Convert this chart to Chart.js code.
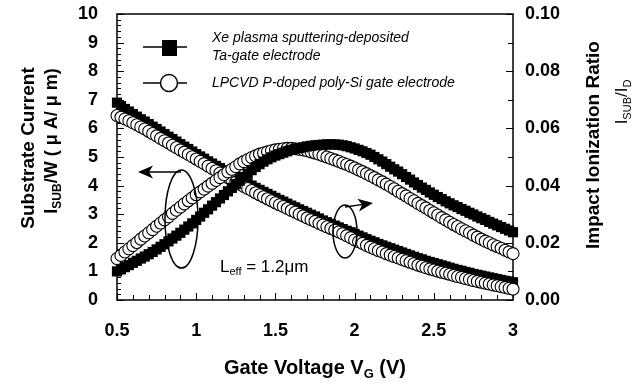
<!DOCTYPE html>
<html><head><meta charset="utf-8">
<script src="https://cdn.jsdelivr.net/npm/chart.js@4/dist/chart.umd.min.js"></script>
<style>html,body{margin:0;padding:0;background:#fff;overflow:hidden}</style>
</head><body>
<canvas id="c" width="632" height="386"></canvas>
<script>
// Gate voltage VG (V)
const gateVoltage = [
0.5,0.525,0.55,0.575,0.6,0.625,0.65,0.675,0.7,0.725,0.75,0.775,0.8,0.825,0.85,0.875,0.9,0.925,0.95,0.975,
1.0,1.025,1.05,1.075,1.1,1.125,1.15,1.175,1.2,1.225,1.25,1.275,1.3,1.325,1.35,1.375,1.4,1.425,1.45,1.475,
1.5,1.525,1.55,1.575,1.6,1.625,1.65,1.675,1.7,1.725,1.75,1.775,1.8,1.825,1.85,1.875,1.9,1.925,1.95,1.975,
2.0,2.025,2.05,2.075,2.1,2.125,2.15,2.175,2.2,2.225,2.25,2.275,2.3,2.325,2.35,2.375,2.4,2.425,2.45,2.475,
2.5,2.525,2.55,2.575,2.6,2.625,2.65,2.675,2.7,2.725,2.75,2.775,2.8,2.825,2.85,2.875,2.9,2.925,2.95,2.975,
3.0];
// Substrate current ISUB/W (uA/um), Ta-gate (filled squares)
const taSubstrateCurrent = [
1.00,1.07,1.15,1.22,1.30,1.37,1.45,1.52,1.60,1.68,1.77,1.86,1.95,2.05,2.15,2.25,2.35,2.46,2.57,2.68,
2.80,2.92,3.05,3.17,3.30,3.42,3.55,3.67,3.80,3.92,4.05,4.17,4.30,4.42,4.54,4.65,4.75,4.84,4.92,4.99,
5.05,5.10,5.15,5.20,5.25,5.28,5.31,5.34,5.37,5.39,5.41,5.42,5.43,5.44,5.44,5.44,5.43,5.41,5.38,5.34,
5.30,5.25,5.20,5.14,5.08,5.00,4.92,4.84,4.75,4.66,4.57,4.49,4.40,4.30,4.21,4.11,4.02,3.93,3.85,3.76,
3.68,3.60,3.53,3.45,3.38,3.31,3.25,3.18,3.12,3.05,2.99,2.92,2.86,2.80,2.73,2.67,2.61,2.55,2.49,2.43,
2.37];
// Substrate current, poly-Si gate (open circles)
const polySubstrateCurrent = [
1.45,1.56,1.68,1.79,1.90,2.01,2.13,2.24,2.35,2.46,2.58,2.69,2.80,2.91,3.03,3.14,3.25,3.36,3.47,3.57,
3.68,3.78,3.88,3.98,4.08,4.18,4.28,4.38,4.48,4.57,4.66,4.76,4.84,4.91,4.98,5.04,5.10,5.14,5.18,5.22,
5.25,5.27,5.29,5.30,5.30,5.29,5.27,5.25,5.22,5.18,5.14,5.10,5.05,5.00,4.95,4.90,4.85,4.79,4.74,4.68,
4.62,4.55,4.49,4.42,4.35,4.28,4.20,4.13,4.05,3.97,3.89,3.80,3.72,3.64,3.55,3.47,3.38,3.30,3.22,3.13,
3.05,2.97,2.88,2.80,2.72,2.64,2.57,2.49,2.42,2.35,2.27,2.20,2.13,2.06,2.00,1.93,1.87,1.81,1.74,1.68,
1.62];
// Impact ionization ratio ISUB/ID, Ta-gate
const taIonizationRatio = [
0.0690,0.0678,0.0668,0.0659,0.0650,0.0641,0.0632,0.0624,0.0615,0.0606,0.0598,0.0589,0.0580,0.0571,0.0563,0.0554,0.0545,0.0536,0.0528,0.0519,
0.0510,0.0502,0.0494,0.0485,0.0477,0.0469,0.0461,0.0453,0.0445,0.0437,0.0430,0.0422,0.0415,0.0407,0.0400,0.0392,0.0385,0.0378,0.0371,0.0364,
0.0357,0.0350,0.0344,0.0337,0.0330,0.0324,0.0317,0.0311,0.0305,0.0298,0.0292,0.0285,0.0278,0.0272,0.0266,0.0260,0.0254,0.0248,0.0242,0.0237,
0.0231,0.0225,0.0219,0.0213,0.0207,0.0202,0.0196,0.0191,0.0186,0.0181,0.0176,0.0171,0.0166,0.0161,0.0156,0.0151,0.0146,0.0142,0.0137,0.0133,
0.0129,0.0125,0.0121,0.0117,0.0113,0.0109,0.0105,0.0102,0.0098,0.0095,0.0091,0.0088,0.0085,0.0082,0.0079,0.0076,0.0073,0.0070,0.0067,0.0065,
0.0062];
// Impact ionization ratio, poly-Si gate
const polyIonizationRatio = [
0.0645,0.0639,0.0633,0.0627,0.0620,0.0613,0.0605,0.0598,0.0590,0.0582,0.0574,0.0565,0.0557,0.0549,0.0541,0.0533,0.0525,0.0517,0.0509,0.0501,
0.0493,0.0485,0.0477,0.0468,0.0460,0.0452,0.0444,0.0436,0.0428,0.0420,0.0412,0.0405,0.0397,0.0390,0.0383,0.0375,0.0368,0.0361,0.0354,0.0347,
0.0340,0.0333,0.0327,0.0320,0.0313,0.0307,0.0300,0.0294,0.0287,0.0281,0.0275,0.0268,0.0262,0.0256,0.0250,0.0244,0.0238,0.0232,0.0225,0.0218,
0.0210,0.0204,0.0198,0.0191,0.0185,0.0179,0.0173,0.0168,0.0162,0.0157,0.0152,0.0147,0.0142,0.0137,0.0132,0.0127,0.0122,0.0118,0.0113,0.0109,
0.0105,0.0101,0.0097,0.0094,0.0090,0.0086,0.0082,0.0079,0.0075,0.0072,0.0068,0.0065,0.0062,0.0059,0.0056,0.0053,0.0050,0.0047,0.0044,0.0041,
0.0038];

const xTickValues = [0.5, 1, 1.5, 2, 2.5, 3];
const xTickLabels = ['0.5', '1', '1.5', '2', '2.5', '3'];
const leftTickValues = [0,1,2,3,4,5,6,7,8,9,10];
const rightTickValues = [0, 0.02, 0.04, 0.06, 0.08, 0.10];
const rightTickLabels = ['0.00','0.02','0.04','0.06','0.08','0.10'];
const legendLabels = [['Xe plasma sputtering-deposited','Ta-gate electrode'], ['LPCVD P-doped poly-Si gate electrode']];

const FONT = '"Liberation Sans", Arial, Helvetica, sans-serif';
const pts = (xs, ys) => xs.map((x, i) => ({x, y: ys[i]}));

function richText(ctx, parts, cx, cy, rot) {
  ctx.save();
  ctx.translate(cx, cy);
  if (rot) ctx.rotate(rot);
  let total = 0;
  const w = parts.map(p => { ctx.font = `${p[2]} ${p[1]}px ${FONT}`; const m = ctx.measureText(p[0]).width; total += m; return m; });
  let x = -total / 2;
  ctx.textBaseline = 'alphabetic';
  ctx.textAlign = 'left';
  ctx.fillStyle = '#000';
  parts.forEach((p, i) => { ctx.font = `${p[2]} ${p[1]}px ${FONT}`; ctx.fillText(p[0], x, p[3] || 0); x += w[i]; });
  ctx.restore();
}
function richLeft(ctx, parts, x0, y0) {
  ctx.save();
  ctx.textBaseline = 'alphabetic'; ctx.textAlign = 'left'; ctx.fillStyle = '#000';
  let x = x0;
  parts.forEach(p => { ctx.font = `${p[2]} ${p[1]}px ${FONT}`; ctx.fillText(p[0], x, y0 + (p[3] || 0)); x += ctx.measureText(p[0]).width; });
  ctx.restore();
}
function arrow(ctx, x1, y1, x2, y2) {
  const a = Math.atan2(y2 - y1, x2 - x1);
  ctx.beginPath(); ctx.moveTo(x1, y1); ctx.lineTo(x2 - 8 * Math.cos(a), y2 - 8 * Math.sin(a)); ctx.stroke();
  ctx.beginPath();
  ctx.moveTo(x2, y2);
  ctx.lineTo(x2 - 15 * Math.cos(a) + 6.5 * Math.sin(a), y2 - 15 * Math.sin(a) - 6.5 * Math.cos(a));
  ctx.lineTo(x2 - 11 * Math.cos(a), y2 - 11 * Math.sin(a));
  ctx.lineTo(x2 - 15 * Math.cos(a) - 6.5 * Math.sin(a), y2 - 15 * Math.sin(a) + 6.5 * Math.cos(a));
  ctx.closePath(); ctx.fill();
}

const framePlugin = {
  id: 'frame',
  beforeDatasetsDraw(chart) {
    const {ctx, chartArea: a, scales} = chart;
    ctx.save();
    ctx.strokeStyle = '#000'; ctx.lineWidth = 1.5;
    ctx.strokeRect(a.left, a.top, a.right - a.left, a.bottom - a.top);
    ctx.lineWidth = 1;
    ctx.beginPath();
    for (let k = 0; k <= 50; k++) {
      const y = Math.round(scales.y.getPixelForValue(k * 0.2)) + 0.5;
      const len = k % 5 === 0 ? 7 : 4;
      ctx.moveTo(a.left, y); ctx.lineTo(a.left + len, y);
    }
    for (let k = 0; k <= 10; k++) {
      const y = Math.round(scales.y1.getPixelForValue(k * 0.01)) + 0.5;
      const len = k % 2 === 0 ? 7 : 5;
      ctx.moveTo(a.right, y); ctx.lineTo(a.right - len, y);
    }
    for (let k = 0; k <= 25; k++) {
      const x = Math.round(scales.x.getPixelForValue(0.5 + k * 0.1)) + 0.5;
      const len = k % 5 === 0 ? 7 : 5;
      ctx.moveTo(x, a.bottom); ctx.lineTo(x, a.bottom - len);
    }
    ctx.stroke();
    ctx.restore();
  },
  afterDraw(chart) {
    const ctx = chart.ctx;
    ctx.save();
    richText(ctx, [['Substrate Current', 19, 'bold']], 34, 148, -Math.PI / 2);
    richText(ctx, [['I', 18, 'bold'], ['SUB', 12, 'bold', 4], ['/W ( \u03bc A/ \u03bc m)', 18, 'bold']], 57, 141, -Math.PI / 2);
    richText(ctx, [['Impact Ionization Ratio', 19, 'bold']], 599, 145, -Math.PI / 2);
    richText(ctx, [['I', 17, 'normal'], ['SUB', 11, 'normal', 4], ['/I', 17, 'normal'], ['D', 11, 'normal', 4]], 627, 102, -Math.PI / 2);
    richText(ctx, [['Gate Voltage V', 20, 'bold'], ['G', 13, 'bold', 4], [' (V)', 20, 'bold']], 315, 374, 0);
    ctx.strokeStyle = '#000'; ctx.fillStyle = '#000'; ctx.lineWidth = 1.5;
    ctx.beginPath(); ctx.moveTo(143, 47); ctx.lineTo(187, 47); ctx.stroke();
    ctx.fillRect(162, 40, 15, 16);
    ctx.beginPath(); ctx.moveTo(143, 83); ctx.lineTo(187, 83); ctx.stroke();
    ctx.beginPath(); ctx.ellipse(169, 83, 8.5, 8.5, 0, 0, Math.PI * 2); ctx.fillStyle = '#fff'; ctx.fill(); ctx.stroke();
    ctx.fillStyle = '#000';
    ctx.font = `italic 14px ${FONT}`; ctx.textAlign = 'left'; ctx.textBaseline = 'alphabetic';
    ctx.fillText(legendLabels[0][0], 212, 42);
    ctx.fillText(legendLabels[0][1], 212, 60);
    ctx.fillText(legendLabels[1][0], 212, 87);
    ctx.lineWidth = 1.5;
    ctx.beginPath(); ctx.ellipse(181.5, 219, 16.5, 49, 0, 0, Math.PI * 2); ctx.stroke();
    arrow(ctx, 181, 172, 138, 172);
    ctx.beginPath(); ctx.ellipse(345, 231.5, 12, 26.5, 0, 0, Math.PI * 2); ctx.stroke();
    arrow(ctx, 345, 207, 373, 203);
    richLeft(ctx, [['L', 17, 'normal'], ['eff', 11, 'normal', 3], [' = 1.2\u03bcm', 17, 'normal']], 220, 272);
    ctx.restore();
  }
};

const sq = {pointStyle: 'rect', pointRadius: 7.2, pointBackgroundColor: '#000', pointBorderColor: '#000', pointBorderWidth: 0, borderColor: '#000', borderWidth: 1, showLine: true, clip: false};
const ci = {pointStyle: 'circle', pointRadius: 6, pointBackgroundColor: '#fff', pointBorderColor: '#000', pointBorderWidth: 1.1, borderColor: '#000', borderWidth: 1, showLine: true, clip: false};

const noPadV = s => { s.paddingTop = 0; s.paddingBottom = 0; };

new Chart(document.getElementById('c'), {
  type: 'line',
  data: {
    datasets: [
      Object.assign({label: 'Ta ISUB/W', data: pts(gateVoltage, taSubstrateCurrent), yAxisID: 'y', order: 0}, sq),
      Object.assign({label: 'poly ISUB/W', data: pts(gateVoltage, polySubstrateCurrent), yAxisID: 'y', order: 1}, ci),
      Object.assign({label: 'poly ISUB/ID', data: pts(gateVoltage, polyIonizationRatio), yAxisID: 'y1', order: 2}, ci),
      Object.assign({label: 'Ta ISUB/ID', data: pts(gateVoltage, taIonizationRatio), yAxisID: 'y1', order: 3}, sq)
    ]
  },
  options: {
    responsive: false, animation: false, devicePixelRatio: 1,
    layout: {padding: {top: 14, left: 0, right: 0, bottom: 0}},
    plugins: {legend: {display: false}, tooltip: {enabled: false}, title: {display: false}},
    elements: {line: {tension: 0}},
    scales: {
      x: {
        type: 'linear', min: 0.5, max: 3,
        afterBuildTicks: s => { s.ticks = xTickValues.map(v => ({value: v})); },
        afterFit: s => { s.height = 86; s.paddingLeft = 0; s.paddingRight = 0; },
        grid: {display: false, drawTicks: false}, border: {display: false},
        ticks: {color: '#000', font: {family: FONT, size: 18, weight: 'bold'}, padding: 20, maxRotation: 0, autoSkip: false,
          callback: (v, i) => xTickLabels[i]}
      },
      y: {
        position: 'left', min: 0, max: 10,
        afterBuildTicks: s => { s.ticks = leftTickValues.map(v => ({value: v})); },
        afterFit: s => { s.width = 117; noPadV(s); },
        grid: {display: false, drawTicks: false}, border: {display: false},
        ticks: {color: '#000', font: {family: FONT, size: 18, weight: 'bold'}, padding: 19, autoSkip: false,
          callback: (v, i) => String(leftTickValues[i])}
      },
      y1: {
        position: 'right', min: 0, max: 0.1,
        afterBuildTicks: s => { s.ticks = rightTickValues.map(v => ({value: v})); },
        afterFit: s => { s.width = 119; noPadV(s); },
        grid: {display: false, drawTicks: false}, border: {display: false},
        ticks: {color: '#000', font: {family: FONT, size: 18, weight: 'bold'}, padding: 12, autoSkip: false,
          callback: (v, i) => rightTickLabels[i]}
      }
    }
  },
  plugins: [framePlugin]
});
</script>
</body></html>
